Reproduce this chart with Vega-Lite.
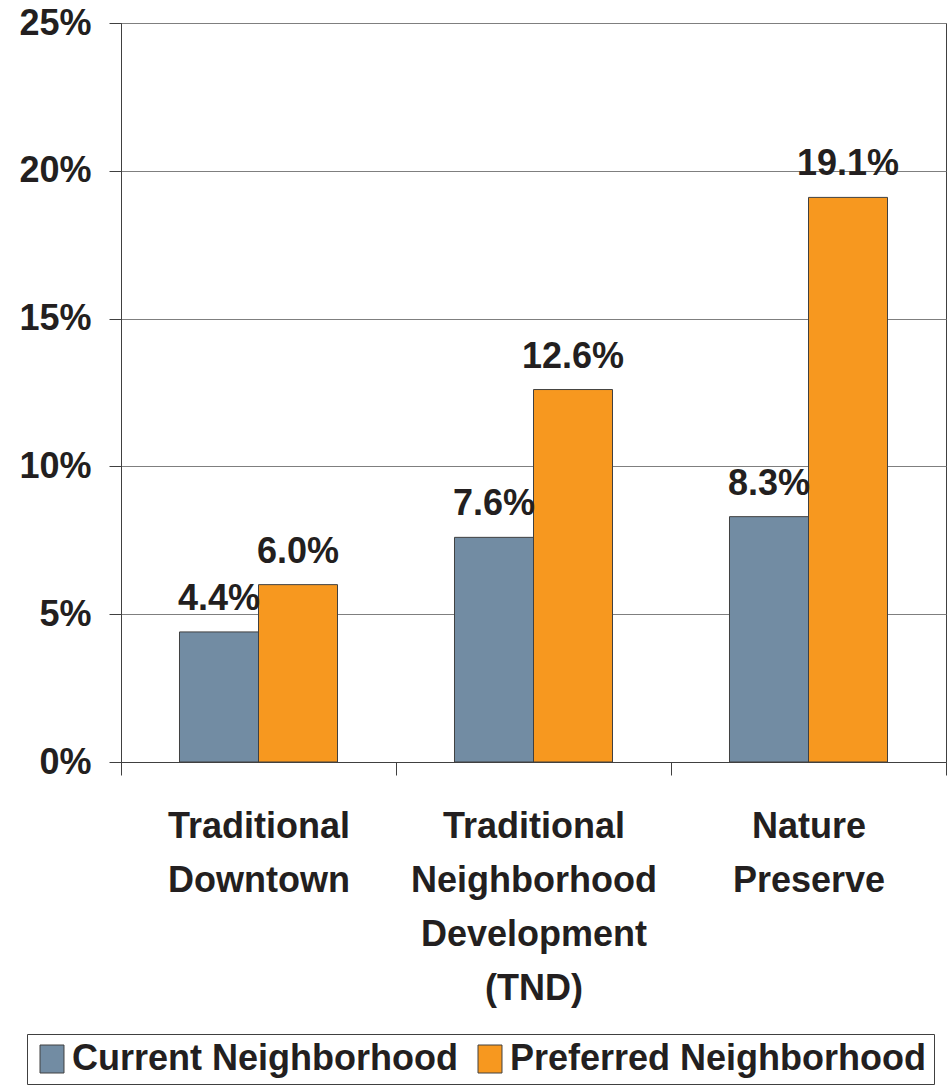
{
  "$schema": "https://vega.github.io/schema/vega-lite/v6.json",
  "width": 825,
  "height": 739,
  "autosize": {"type": "none"},
  "padding": {"left": 121, "top": 23, "right": 3, "bottom": 327},
  "background": "white",
  "config": {
    "view": {"stroke": "#404040", "strokeWidth": 1},
    "font": "Liberation Sans",
    "axis": {
      "labelFont": "Liberation Sans",
      "labelFontWeight": "bold",
      "labelFontSize": 36,
      "labelColor": "#231f20",
      "domainColor": "#404040",
      "tickColor": "#404040",
      "title": null
    },
    "legend": {
      "labelFont": "Liberation Sans",
      "labelFontWeight": "bold",
      "labelFontSize": 36,
      "labelColor": "#231f20"
    }
  },
  "data": {
    "values": [
      {"category": "Traditional|Downtown", "series": "Current Neighborhood", "value": 0.044},
      {"category": "Traditional|Downtown", "series": "Preferred Neighborhood", "value": 0.060},
      {"category": "Traditional|Neighborhood|Development|(TND)", "series": "Current Neighborhood", "value": 0.076},
      {"category": "Traditional|Neighborhood|Development|(TND)", "series": "Preferred Neighborhood", "value": 0.126},
      {"category": "Nature|Preserve", "series": "Current Neighborhood", "value": 0.083},
      {"category": "Nature|Preserve", "series": "Preferred Neighborhood", "value": 0.191}
    ]
  },
  "encoding": {
    "x": {
      "field": "category",
      "type": "nominal",
      "sort": null,
      "scale": {"paddingInner": 0, "paddingOuter": 0},
      "axis": {
        "labelAngle": 0,
        "labelExpr": "split(datum.label, '|')",
        "labelLineHeight": 54,
        "labelPadding": 34,
        "labelBaseline": "top",
        "labelLimit": 500,
        "tickSize": 13,
        "tickBand": "extent",
        "grid": false
      }
    },
    "xOffset": {
      "field": "series",
      "type": "nominal",
      "scale": {"paddingInner": 0, "paddingOuter": 0.7405}
    },
    "y": {
      "field": "value",
      "type": "quantitative",
      "scale": {"domain": [0, 0.25], "nice": false, "zero": true},
      "axis": {
        "values": [0, 0.05, 0.1, 0.15, 0.2, 0.25],
        "format": ".0%",
        "tickSize": 12,
        "labelPadding": 18,
        "grid": true,
        "gridColor": "#7f7f7f",
        "gridWidth": 1
      }
    }
  },
  "layer": [
    {
      "mark": {"type": "bar", "stroke": "#404040", "strokeWidth": 1},
      "encoding": {
        "fill": {
          "field": "series",
          "type": "nominal",
          "scale": {"domain": ["Current Neighborhood", "Preferred Neighborhood"], "range": ["#728ca3", "#f7981f"]},
          "legend": {
            "title": null,
            "orient": "none",
            "legendX": -94,
            "legendY": 1011,
            "direction": "horizontal",
            "columns": 2,
            "strokeColor": "#404040",
            "padding": 7,
            "symbolType": "M-0.857,-1H0.857V1H-0.857Z",
            "symbolSize": 784,
            "symbolStrokeColor": "#404040",
            "symbolStrokeWidth": 1,
            "symbolOpacity": 1,
            "labelOffset": 2,
            "columnPadding": 14,
            "labelLimit": 600
          }
        }
      }
    },
    {
      "mark": {
        "type": "text",
        "baseline": "alphabetic",
        "align": "center",
        "dy": -22,
        "font": "Liberation Sans",
        "fontWeight": "bold",
        "fontSize": 36,
        "color": "#231f20"
      },
      "encoding": {
        "text": {"field": "value", "type": "quantitative", "format": ".1%"}
      }
    }
  ]
}
